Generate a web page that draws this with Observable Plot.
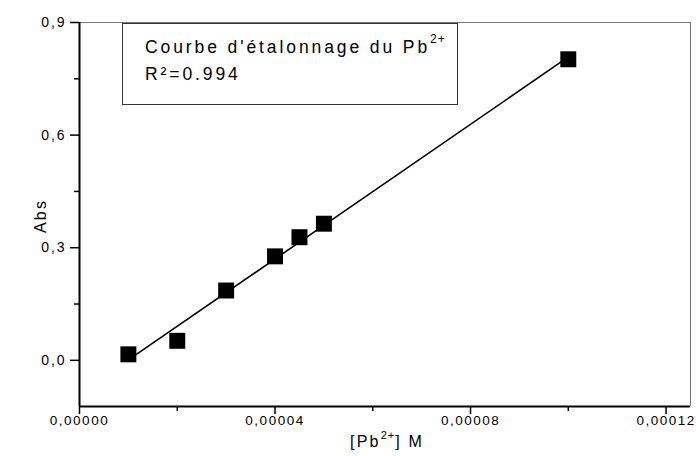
<!DOCTYPE html>
<html>
<head>
<meta charset="utf-8">
<script src="https://cdn.jsdelivr.net/npm/d3@7"></script>
<script src="https://cdn.jsdelivr.net/npm/@observablehq/plot@0.6"></script>
<style>
  html, body { margin: 0; padding: 0; background: #fff; }
  svg text { font-family: "Liberation Sans", Arial, sans-serif; }
</style>
</head>
<body>
<div id="chart"></div>
<script>
// Data (concentration [Pb2+] in M, absorbance)
const concentrations = [0.00001, 0.00002, 0.00003, 0.00004, 0.000045, 0.00005, 0.0001];
const absorbances = [0.016, 0.052, 0.186, 0.277, 0.328, 0.364, 0.802];

// Axis ticks
const xTicks = [0, 0.00004, 0.00008, 0.00012];
const xMinorTicks = [0.00002, 0.00006, 0.0001];
const yTicks = [0, 0.3, 0.6, 0.9];
const yMinorTicks = [0.15, 0.45, 0.75];
const xDomain = [0, 0.000125];
const yDomain = [-0.123, 0.9];

// Texts
const legendTitle = "Courbe d'étalonnage du Pb";
const legendSup = "2+";
const legendR2 = "R²=0.994";
const yLabel = "Abs";

const points = concentrations.map((c, i) => ({c, a: absorbances[i]}));
const fmtX = d => d.toFixed(5).replace(".", ",");
const fmtY = d => d.toFixed(1).replace(".", ",");

const W = 696, H = 456;
const mL = 79, mR = 6, mT = 22, mB = 50;

const plot = Plot.plot({
  width: W, height: H,
  marginLeft: mL, marginRight: mR, marginTop: mT, marginBottom: mB,
  style: {fontFamily: "'Liberation Sans', Arial, sans-serif", fontSize: "14px", color: "#000", background: "#fff", overflow: "visible"},
  x: {domain: xDomain},
  y: {domain: yDomain},
  marks: [
    // frame: thin grey top/right, thick black left/bottom
    Plot.ruleY([yDomain[1]], {stroke: "#777", strokeWidth: 1}),
    Plot.ruleX([xDomain[1]], {stroke: "#777", strokeWidth: 1}),
    Plot.axisX(xTicks, {tickSize: 8, tickPadding: 1, tickFormat: fmtX, label: null, strokeWidth: 1.5, fontSize: 13.5}),
    Plot.axisX(xMinorTicks, {tickSize: 5, tickFormat: () => "", label: null, strokeWidth: 1.5}),
    Plot.axisY(yTicks, {tickSize: 9, tickPadding: 4, tickFormat: fmtY, label: null, strokeWidth: 1.5, fontSize: 14}),
    Plot.axisY(yMinorTicks, {tickSize: 5, tickFormat: () => "", label: null, strokeWidth: 1.5}),
    Plot.ruleX([xDomain[0]], {stroke: "#000", strokeWidth: 2}),
    Plot.ruleY([yDomain[0]], {stroke: "#000", strokeWidth: 2}),
    Plot.linearRegressionY(points, {x: "c", y: "a", stroke: "#000", strokeWidth: 1.6, ci: 0}),
    Plot.dot(points, {x: "c", y: "a", symbol: "square", r: 9, fill: "#000", stroke: "none"})
  ]
});

const svg = d3.select(plot);
svg.selectAll("g[aria-label='x-axis tick label'] text")
  .attr("letter-spacing", 1.5);
svg.selectAll("g[aria-label='y-axis tick label'] text")
  .attr("letter-spacing", 1.9);

// Y axis label
svg.append("text")
  .attr("transform", `translate(42,${(mT + (H - mB)) / 2 + 2}) rotate(-90)`)
  .attr("text-anchor", "middle")
  .attr("dominant-baseline", "middle")
  .attr("font-size", 16)
  .attr("letter-spacing", 2.2)
  .attr("fill", "#000")
  .text(yLabel);

// X axis label with superscript
const xl = svg.append("text")
  .attr("x", 387)
  .attr("y", 447)
  .attr("text-anchor", "middle")
  .attr("font-size", 16)
  .attr("letter-spacing", 2.2)
  .attr("fill", "#000");
xl.append("tspan").text("[Pb");
xl.append("tspan").attr("dy", -8).attr("font-size", 11).attr("letter-spacing", 1).text("2+");
xl.append("tspan").attr("dy", 8).text("] M");

// Legend box
const lg = svg.append("g");
lg.append("rect")
  .attr("x", 122.5).attr("y", 23.5)
  .attr("width", 335).attr("height", 81)
  .attr("fill", "#fff").attr("stroke", "#333").attr("stroke-width", 1);
const t1 = lg.append("text")
  .attr("x", 145).attr("y", 53)
  .attr("text-anchor", "start")
  .attr("font-size", 17.5)
  .attr("letter-spacing", 2.9)
  .attr("fill", "#000");
t1.append("tspan").text(legendTitle);
t1.append("tspan").attr("dy", -10).attr("font-size", 12).attr("letter-spacing", 1).text(legendSup);
lg.append("text")
  .attr("x", 145).attr("y", 80)
  .attr("text-anchor", "start")
  .attr("font-size", 17.5)
  .attr("letter-spacing", 2.9)
  .attr("fill", "#000")
  .text(legendR2);

document.getElementById("chart").appendChild(plot);
</script>
</body>
</html>
